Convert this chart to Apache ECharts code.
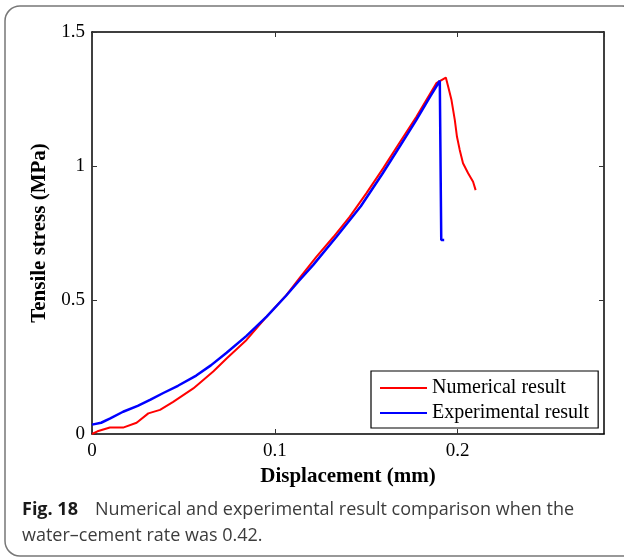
<!DOCTYPE html>
<html>
<head>
<meta charset="utf-8">
<title>Tensile stress vs displacement</title>
<script src="https://cdn.jsdelivr.net/npm/echarts@6/dist/echarts.min.js"></script>
<style>
  html, body { margin: 0; padding: 0; background: #ffffff; }
  #chart { width: 624px; height: 560px; }
</style>
</head>
<body>
<div id="chart"></div>
<script>
// Numerical model curve (displacement in mm, stress in MPa)
const numDisp = [0, 0.003, 0.0098, 0.017, 0.0244, 0.0308, 0.0372, 0.0444, 0.0554, 0.0663, 0.0736, 0.0845, 0.0955, 0.1064, 0.1140, 0.1228, 0.132, 0.141, 0.150, 0.1592, 0.168, 0.1774, 0.1883, 0.1935, 0.1948, 0.1966, 0.1984, 0.1996, 0.2011, 0.2029, 0.2057, 0.2084, 0.2098];
const numStress = [0, 0.01, 0.024, 0.024, 0.042, 0.077, 0.09, 0.12, 0.17, 0.233, 0.282, 0.351, 0.438, 0.519, 0.586, 0.662, 0.735, 0.811, 0.898, 0.991, 1.085, 1.184, 1.309, 1.33, 1.296, 1.246, 1.172, 1.109, 1.06, 1.01, 0.973, 0.941, 0.91];

// Experimental curve
const expDisp = [0, 0.005, 0.010, 0.017, 0.025, 0.032, 0.039, 0.047, 0.057, 0.065, 0.0736, 0.0845, 0.0955, 0.106, 0.113, 0.121, 0.1337, 0.147, 0.159, 0.168, 0.1774, 0.185, 0.1902, 0.191, 0.1926];
const expStress = [0.035, 0.042, 0.058, 0.083, 0.105, 0.128, 0.153, 0.180, 0.218, 0.256, 0.303, 0.366, 0.438, 0.515, 0.570, 0.631, 0.736, 0.850, 0.973, 1.070, 1.172, 1.26, 1.318, 0.724, 0.724];

const seriesNames = ['Numerical result', 'Experimental result'];
const xTickStep = 0.1;
const yTickStep = 0.5;
const xMax = 0.28;
const yMax = 1.5;

const captionLabel = 'Fig. 18';
const captionLine1 = 'Numerical and experimental result comparison when the';
const captionLine2 = 'water\u2013cement rate was 0.42.';

const zip = (xs, ys) => xs.map((x, i) => [x, ys[i]]);

const serif = '"Liberation Serif", "Times New Roman", serif';
const sans = '"Open Sans", "Noto Sans", sans-serif';

const chart = echarts.init(document.getElementById('chart'), null, { renderer: 'canvas' });

const frameLine = { show: true, onZero: false, lineStyle: { color: '#000', width: 1.5 } };
const innerTick = { show: true, inside: true, length: 5, lineStyle: { color: '#333', width: 1 } };

chart.setOption({
  animation: false,
  backgroundColor: '#ffffff',
  grid: { left: 92, right: 20, top: 32, bottom: 126, containLabel: false },
  xAxis: [
    {
      type: 'value', position: 'bottom', min: 0, max: xMax, interval: xTickStep,
      name: 'Displacement (mm)', nameLocation: 'middle', nameGap: 31,
      nameTextStyle: { fontFamily: serif, fontWeight: 'bold', fontSize: 21, color: '#000' },
      axisLine: frameLine, axisTick: innerTick, splitLine: { show: false },
      axisLabel: { show: true, showMaxLabel: false, margin: 8, fontFamily: serif, fontSize: 19, color: '#000' }
    },
    {
      type: 'value', position: 'top', min: 0, max: xMax, interval: xTickStep,
      axisLine: frameLine, axisTick: innerTick, splitLine: { show: false },
      axisLabel: { show: false }
    }
  ],
  yAxis: [
    {
      type: 'value', position: 'left', min: 0, max: yMax, interval: yTickStep,
      name: 'Tensile stress (MPa)', nameLocation: 'middle', nameGap: 37,
      nameTextStyle: { fontFamily: serif, fontWeight: 'bold', fontSize: 21, color: '#000' },
      axisLine: frameLine, axisTick: innerTick, splitLine: { show: false },
      axisLabel: { show: true, margin: 7, fontFamily: serif, fontSize: 19, color: '#000' }
    },
    {
      type: 'value', position: 'right', min: 0, max: yMax, interval: yTickStep,
      axisLine: frameLine, axisTick: innerTick, splitLine: { show: false },
      axisLabel: { show: false }
    }
  ],
  legend: {
    show: true,
    orient: 'vertical',
    left: 371, top: 371,
    padding: [7, 9, 5, 9],
    itemWidth: 47, itemHeight: 14, itemGap: 5,
    backgroundColor: '#ffffff',
    borderColor: '#000', borderWidth: 1.2,
    textStyle: { fontFamily: serif, fontSize: 20, color: '#000', lineHeight: 20 },
    data: [
      { name: seriesNames[0], icon: 'path://M0,6 L47,6 L47,8 L0,8 Z', itemStyle: { color: '#ff0000' } },
      { name: seriesNames[1], icon: 'path://M0,6 L47,6 L47,8 L0,8 Z', itemStyle: { color: '#0000ff' } }
    ]
  },
  series: [
    {
      name: seriesNames[0], type: 'line', xAxisIndex: 0, yAxisIndex: 0,
      data: zip(numDisp, numStress), showSymbol: false, symbol: 'none',
      lineStyle: { color: '#ff0000', width: 2 }, itemStyle: { color: '#ff0000' }, z: 3
    },
    {
      name: seriesNames[1], type: 'line', xAxisIndex: 0, yAxisIndex: 0,
      data: zip(expDisp, expStress), showSymbol: false, symbol: 'none',
      lineStyle: { color: '#0000ff', width: 2.5 }, itemStyle: { color: '#0000ff' }, z: 4
    }
  ],
  graphic: [
    {
      type: 'rect', silent: true, z: -10,
      shape: { x: 5, y: 6, width: 632, height: 550, r: 15 },
      style: { fill: 'none', stroke: '#777', lineWidth: 1.5 }
    },
    {
      type: 'text', left: 22, top: 501, silent: true,
      style: { text: captionLabel, font: 'bold 18px ' + sans, fill: '#1a1a1a' }
    },
    {
      type: 'text', left: 95, top: 501, silent: true,
      style: { text: captionLine1, font: '18px ' + sans, fill: '#3c3c3c' }
    },
    {
      type: 'text', left: 22, top: 527, silent: true,
      style: { text: captionLine2, font: '18px ' + sans, fill: '#3c3c3c' }
    }
  ]
});
</script>
</body>
</html>
